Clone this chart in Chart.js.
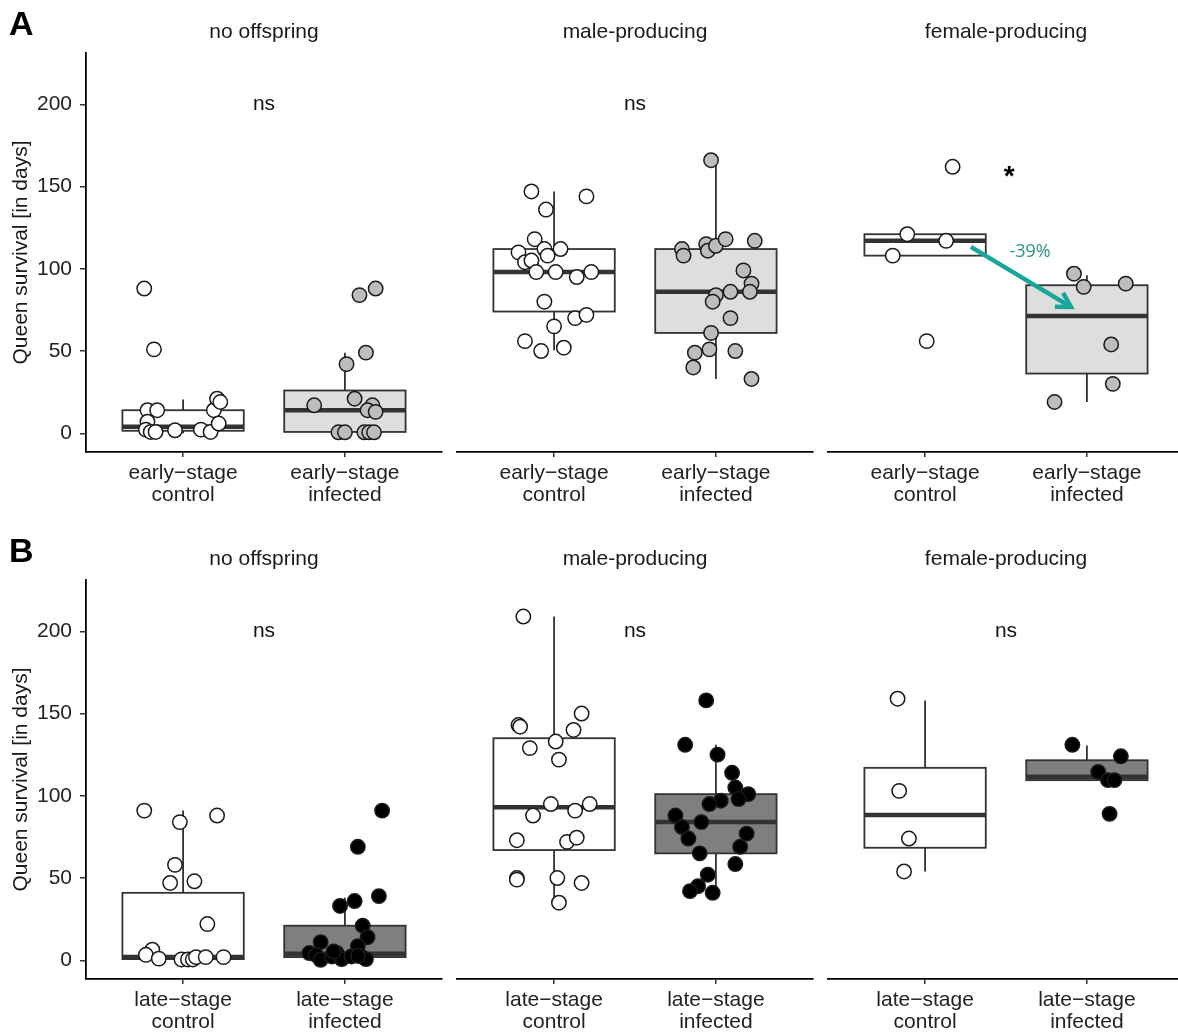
<!DOCTYPE html>
<html><head><meta charset="utf-8">
<script src="https://cdn.jsdelivr.net/npm/chart.js@4.4.0/dist/chart.umd.min.js"></script>
<style>
html,body{margin:0;padding:0;background:#fff;overflow:hidden;}
#wrap{position:relative;width:1178px;height:1034px;overflow:hidden;background:#fff;}
#wrap canvas{position:absolute;}
</style></head><body><div id="wrap"></div>
<script>
// ---------- DATA ----------
const panelTitles = ['no offspring', 'male-producing', 'female-producing'];
const rowLetters = ['A', 'B'];
const groupLabelsEarly = [['early\u2212stage', 'control'], ['early\u2212stage', 'infected']];
const groupLabelsLate = [['late\u2212stage', 'control'], ['late\u2212stage', 'infected']];
const yTicks = [0, 50, 100, 150, 200];
const yTitle = 'Queen survival [in days]';
const sigEarly = ['ns', 'ns', '*'];
const sigLate = ['ns', 'ns', 'ns'];
const changeLabel = '-39%';

// jittered points: [x position (group 1 = control, 2 = infected), survival days]
const earlyNoOffControl = [[0.76,88],[0.82,51],[0.78,14],[0.84,14],[0.78,7],[0.77,2.2],[0.80,0.8],[0.83,0.8],[0.95,1.8],[1.11,2.2],[1.17,0.8],[1.19,14],[1.21,21],[1.23,19],[1.22,5.9]];
const earlyNoOffInfected = [[2.09,84],[2.19,88],[2.13,49],[2.01,42],[1.81,17],[2.06,21],[2.17,17],[2.14,14],[2.19,13],[1.96,0.6],[2.00,0.6],[2.12,0.6],[2.15,0.6],[2.18,0.6]];
const earlyMaleControl = [[0.86,147],[1.20,144],[0.95,136],[0.88,118],[0.78,110],[0.94,112],[1.04,112],[0.82,104],[0.86,105],[0.96,108],[0.89,98],[1.01,98],[1.14,95],[1.23,98],[0.94,80],[1.13,70],[1.20,72],[1.00,65],[0.82,56],[0.92,50],[1.06,52]];
const earlyMaleInfected = [[1.97,166],[1.79,112],[1.80,108],[1.94,115],[1.95,111],[2.00,114],[2.06,118],[2.24,117],[2.17,99],[2.22,91],[2.21,86],[2.09,86],[2.00,84],[1.98,80],[2.09,70],[1.97,61],[1.96,51],[1.87,49],[2.12,50],[1.86,40],[2.22,33]];
const earlyFemaleControl = [[1.17,162],[0.89,121],[1.13,117],[0.80,108],[1.01,56]];
const earlyFemaleInfected = [[1.92,97],[1.98,89],[2.24,91],[2.15,54],[2.16,30],[1.80,19]];
const lateNoOffControl = [[0.76,91],[0.98,84],[1.21,88],[0.95,58],[0.92,47],[1.07,48],[1.15,22],[0.81,6.4],[0.77,3.3],[0.85,1],[0.99,0.5],[1.03,0.5],[1.06,0.5],[1.08,1.9],[1.14,1.9],[1.25,1.9]];
const lateNoOffInfected = [[2.23,91],[2.08,69],[2.21,39],[2.06,36],[1.97,33],[2.11,21],[2.14,14],[1.85,11],[2.08,8.6],[1.78,4.4],[1.82,3.3],[1.85,0.3],[1.92,2.3],[1.95,4.4],[1.98,0.7],[2.04,2.3],[2.10,2.3],[2.13,0.7],[1.93,5.3],[2.08,2.7]];
const lateMaleControl = [[0.81,209],[1.17,150],[0.78,143],[0.79,142],[1.12,140],[0.85,129],[1.01,133],[1.03,122],[0.98,95],[0.87,88],[1.13,91],[1.22,95],[0.77,73],[1.08,72],[1.14,74.5],[0.77,50],[0.77,49],[1.02,50],[1.17,47],[1.03,35]];
const lateMaleInfected = [[1.94,158],[1.81,131],[2.01,125],[2.10,114],[2.12,105],[2.20,101],[2.14,98],[2.03,97],[1.96,95],[1.75,88],[1.91,84],[1.79,81],[1.83,74],[2.19,77],[2.15,69],[1.90,65],[2.12,58.5],[1.95,52],[1.89,45],[1.84,42],[1.98,41]];
const lateFemaleControl = [[0.83,159],[0.84,103],[0.90,74],[0.87,54]];
const lateFemaleInfected = [[1.91,131],[2.21,124],[2.07,114.5],[2.13,109.5],[2.17,109.5],[2.14,89]];

// box statistics: [lower whisker, Q1, median, Q3, upper whisker] for control, infected
const boxEarlyNoOff = [[0, 1.5, 4, 14, 20.5], [0.5, 0.8, 14, 26, 49]];
const boxEarlyMale = [[50.5, 74, 98, 112, 147], [33, 61, 86, 112, 166]];
const boxEarlyFemale = [[108, 108, 117, 121, 121], [19, 36.3, 71.3, 90, 96]];
const boxLateNoOff = [[0.3, 0.7, 2, 41, 91], [0.3, 1.9, 4, 21, 38]];
const boxLateMale = [[35, 67, 93, 135, 209], [41, 65, 84, 101, 131]];
const boxLateFemale = [[54, 68.4, 88.3, 117, 158], [109.5, 109.5, 111.5, 121.6, 130.5]];

// arrow annotation (early female-producing): from [x, y] to [x, y]
const arrowFrom = [1.283, 113.3];
const arrowTo = [1.901, 76.8];
const arrowLabelAt = [1.649, 110.2];
const sigAt = [1.5, 200];
const starAt = [1.52, 158.8];

// ---------- LAYOUT / STYLE ----------
const FONT = '"Liberation Sans", Arial, Helvetica, sans-serif';
Chart.defaults.font.family = FONT;
const FS = 21;
const colLeft = [0, 445, 815], colWidth = [445, 370, 375], areaLeft = [86, 457, 828], areaW = 356;
const rowTop = [0, 527], rowHeight = [527, 507];
const areaTopOff = 53, areaBottomOff = 452;
const rowStyles = [
  {ptFill: '#bdbdbd', boxFill: '#dedede'},
  {ptFill: '#000000', boxFill: '#7f7f7f'}
];

const boxPlugin = {
  id: 'boxes',
  beforeDatasetsDraw(chart, args, o) {
    const {ctx, scales: {x, y}} = chart;
    ctx.save();
    o.stats.forEach((s, i) => {
      const c = i + 1;
      const [lo, q1, med, q3, hi] = s;
      const xl = x.getPixelForValue(c - 0.375), xr = x.getPixelForValue(c + 0.375), xc = x.getPixelForValue(c);
      ctx.strokeStyle = '#333';
      ctx.lineWidth = 1.8;
      ctx.beginPath();
      ctx.moveTo(xc, y.getPixelForValue(hi)); ctx.lineTo(xc, y.getPixelForValue(q3));
      ctx.moveTo(xc, y.getPixelForValue(q1)); ctx.lineTo(xc, y.getPixelForValue(lo));
      ctx.stroke();
      const yt = y.getPixelForValue(q3), yb = y.getPixelForValue(q1);
      ctx.fillStyle = o.fills[i];
      ctx.fillRect(xl, yt, xr - xl, yb - yt);
      ctx.strokeRect(xl, yt, xr - xl, yb - yt);
      ctx.lineWidth = 4.5;
      ctx.beginPath();
      const ym = y.getPixelForValue(med);
      ctx.moveTo(xl, ym); ctx.lineTo(xr, ym);
      ctx.stroke();
    });
    ctx.restore();
  }
};

const annotPlugin = {
  id: 'annot',
  afterDatasetsDraw(chart, args, o) {
    const {ctx, chartArea, scales: {x, y}} = chart;
    ctx.save();
    ctx.fillStyle = '#1a1a1a';
    ctx.textAlign = 'center';
    ctx.textBaseline = 'middle';
    ctx.font = FS + 'px ' + FONT;
    ctx.fillText(o.title, (chartArea.left + chartArea.right) / 2, chartArea.top - 21);
    if (o.sig === '*') {
      ctx.fillStyle = '#000';
      ctx.font = 'bold 28px ' + FONT;
      ctx.textBaseline = 'alphabetic';
      ctx.fillText(o.sig, x.getPixelForValue(starAt[0]), y.getPixelForValue(starAt[1]) + 13);
    } else {
      ctx.fillStyle = '#111';
      ctx.font = FS + 'px ' + FONT;
      ctx.fillText(o.sig, x.getPixelForValue(sigAt[0]), y.getPixelForValue(sigAt[1]));
    }
    if (o.letter) {
      ctx.fillStyle = '#000';
      ctx.textAlign = 'left';
      ctx.textBaseline = 'alphabetic';
      ctx.font = 'bold 34px ' + FONT;
      ctx.fillText(o.letter, 9, 35);
    }
    if (o.arrow) {
      const x0 = x.getPixelForValue(arrowFrom[0]), y0 = y.getPixelForValue(arrowFrom[1]);
      const x1 = x.getPixelForValue(arrowTo[0]), y1 = y.getPixelForValue(arrowTo[1]);
      const ang = Math.atan2(y1 - y0, x1 - x0);
      ctx.strokeStyle = '#19a69a';
      ctx.lineWidth = 4.5;
      ctx.lineCap = 'butt';
      ctx.beginPath();
      ctx.moveTo(x0, y0); ctx.lineTo(x1 - 2 * Math.cos(ang), y1 - 2 * Math.sin(ang));
      ctx.stroke();
      ctx.lineJoin = 'miter';
      ctx.beginPath();
      const L = 16, a = Math.PI / 6;
      ctx.moveTo(x1 - L * Math.cos(ang - a), y1 - L * Math.sin(ang - a));
      ctx.lineTo(x1, y1);
      ctx.lineTo(x1 - L * Math.cos(ang + a), y1 - L * Math.sin(ang + a));
      ctx.stroke();
      ctx.fillStyle = '#27938a';
      ctx.font = '18px "Open Sans", ' + FONT;
      ctx.textAlign = 'center';
      ctx.textBaseline = 'middle';
      ctx.fillText(changeLabel, x.getPixelForValue(arrowLabelAt[0]), y.getPixelForValue(arrowLabelAt[1]));
    }
    ctx.restore();
  }
};

const wrap = document.getElementById('wrap');
const rows = [
  {labels: groupLabelsEarly, sig: sigEarly,
   groups: [[earlyNoOffControl, earlyNoOffInfected], [earlyMaleControl, earlyMaleInfected], [earlyFemaleControl, earlyFemaleInfected]],
   boxes: [boxEarlyNoOff, boxEarlyMale, boxEarlyFemale]},
  {labels: groupLabelsLate, sig: sigLate,
   groups: [[lateNoOffControl, lateNoOffInfected], [lateMaleControl, lateMaleInfected], [lateFemaleControl, lateFemaleInfected]],
   boxes: [boxLateNoOff, boxLateMale, boxLateFemale]}
];

rows.forEach((row, r) => {
  for (let c = 0; c < 3; c++) {
    const cv = document.createElement('canvas');
    const L = colLeft[c], T = rowTop[r], W = colWidth[c], H = rowHeight[r];
    cv.width = W; cv.height = H;
    cv.style.left = L + 'px'; cv.style.top = T + 'px';
    cv.style.width = W + 'px'; cv.style.height = H + 'px';
    wrap.appendChild(cv);
    const showY = c === 0;
    const st = rowStyles[r];
    const toPts = arr => arr.map(p => ({x: p[0], y: p[1]}));
    new Chart(cv, {
      type: 'scatter',
      data: {datasets: [
        {data: toPts(row.groups[c][0]), backgroundColor: '#ffffff', borderColor: '#1a1a1a', borderWidth: 1.5, pointRadius: 7.2, pointHoverRadius: 7.2},
        {data: toPts(row.groups[c][1]), backgroundColor: st.ptFill, borderColor: '#1a1a1a', borderWidth: 1.5, pointRadius: 7.2, pointHoverRadius: 7.2}
      ]},
      options: {
        responsive: false, animation: false, devicePixelRatio: 1, events: [],
        layout: {autoPadding: false, padding: {top: areaTopOff, left: showY ? 0 : areaLeft[c] - L, right: L + W - (areaLeft[c] + areaW), bottom: 0}},
        plugins: {
          legend: {display: false}, tooltip: {enabled: false},
          boxes: {stats: row.boxes[c], fills: ['#ffffff', st.boxFill]},
          annot: {title: panelTitles[c], sig: row.sig[c], letter: showY ? rowLetters[r] : null, arrow: (r === 0 && c === 2)}
        },
        scales: {
          x: {
            type: 'linear', min: 0.4, max: 2.6,
            afterBuildTicks: s => { s.ticks = [{value: 1}, {value: 2}]; },
            afterFit: s => { s.height = H - areaBottomOff; s.paddingLeft = 0; s.paddingRight = 0; },
            ticks: {callback: v => (v === 1 ? row.labels[0] : row.labels[1]), font: {size: FS, lineHeight: 22 / FS}, color: '#222', padding: 5, maxRotation: 0, autoSkip: false},
            grid: {display: true, drawOnChartArea: false, drawTicks: true, tickLength: 5, color: '#333', lineWidth: 1.5},
            border: {display: true, color: '#000', width: 1.8}
          },
          y: {
            type: 'linear', min: -11.4, max: 231.2, display: showY,
            afterBuildTicks: s => { s.ticks = yTicks.map(v => ({value: v})); },
            afterFit: s => { s.width = showY ? areaLeft[c] - L : 0; s.paddingTop = 0; s.paddingBottom = 0; },
            ticks: {font: {size: FS}, color: '#222', padding: 8},
            grid: {display: true, drawOnChartArea: false, drawTicks: true, tickLength: 6, color: '#333', lineWidth: 1.5},
            border: {display: true, color: '#000', width: 1.8},
            title: {display: true, text: yTitle, font: {size: FS}, color: '#1a1a1a', padding: {top: 8.5, bottom: 0}}
          }
        }
      },
      plugins: [boxPlugin, annotPlugin]
    });
  }
});
</script>
</body></html>
